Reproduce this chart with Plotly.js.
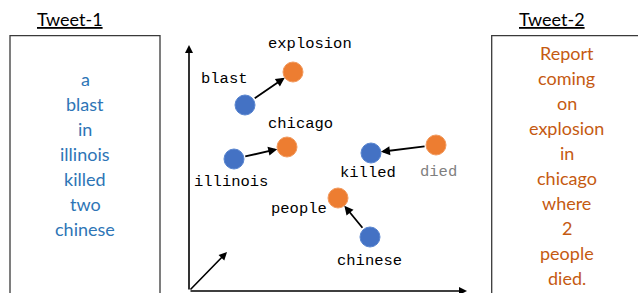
<!DOCTYPE html>
<html>
<head>
<meta charset="utf-8">
<script src="https://cdn.plot.ly/plotly-3.0.1.min.js"></script>
<style>html,body{margin:0;padding:0;background:#fff;}#chart{width:638px;height:293px;}</style>
</head>
<body>
<div id="chart"></div>
<script>
// Word-embedding positions (embedding space, origin at axes corner)
var tweet1Words = ["blast", "illinois", "killed", "chinese"];
var tweet1X = [56, 45, 182, 181];
var tweet1Y = [186, 132, 138, 54];

var tweet2Words = ["explosion", "chicago", "died", "people"];
var tweet2X = [104, 98, 247, 149];
var tweet2Y = [219, 144, 146, 93];

// label positions for each word (same order as above)
var tweet1LabelX = [35, 42, 179, 180];
var tweet1LabelY = [212, 109, 118, 30];
var tweet2LabelX = [121, 111, 249, 110];
var tweet2LabelY = [247, 167, 119, 82];

// arrow direction: true = tweet1 -> tweet2, false = tweet2 -> tweet1
var arrowForward = [true, true, false, true];

// Tweet texts
var tweet1Title = "Tweet-1";
var tweet1Text = ["a", "blast", "in", "illinois", "killed", "two", "chinese"];
var tweet2Title = "Tweet-2";
var tweet2Text = ["Report", "coming", "on", "explosion", "in", "chicago", "where", "2", "people", "died."];

// axis arrow ends
var axisEnds = {x: [0, 278, 38], y: [246, 0, 39]};

var BLUE = "#4472C4", ORANGE = "#ED7D31";
var TBLUE = "#2E75B6", TORANGE = "#C55A11";
var mono = "Liberation Mono, Courier New, monospace";
var sans = "Lato, Open Sans, sans-serif";

var traces = [
  {type: "scatter", mode: "markers", x: tweet1X, y: tweet1Y, text: tweet1Words,
   marker: {size: 20, color: BLUE, line: {color: "#5A86D0", width: 1}}, hoverinfo: "text"},
  {type: "scatter", mode: "markers", x: tweet2X, y: tweet2Y, text: tweet2Words,
   marker: {size: 20, color: ORANGE, line: {color: "#F29A5E", width: 1}}, hoverinfo: "text"}
];

var annotations = [];
var shapes = [];

// axis arrows
for (var i = 0; i < axisEnds.x.length; i++) {
  annotations.push({x: axisEnds.x[i], y: axisEnds.y[i], ax: 0, ay: 0, xref: "x", yref: "y", axref: "x", ayref: "y",
    showarrow: true, arrowhead: 2, arrowsize: 1, arrowwidth: 1.6, arrowcolor: "#000", text: ""});
}

// word arrows
for (var i = 0; i < tweet1Words.length; i++) {
  var fx = arrowForward[i] ? tweet1X[i] : tweet2X[i];
  var fy = arrowForward[i] ? tweet1Y[i] : tweet2Y[i];
  var tx = arrowForward[i] ? tweet2X[i] : tweet1X[i];
  var ty = arrowForward[i] ? tweet2Y[i] : tweet1Y[i];
  annotations.push({x: tx, y: ty, ax: fx, ay: fy, xref: "x", yref: "y", axref: "x", ayref: "y",
    showarrow: true, arrowhead: 2, arrowsize: 1, arrowwidth: 1.8, arrowcolor: "#000",
    standoff: 10, startstandoff: 10, text: ""});
}

// word labels
for (var i = 0; i < tweet1Words.length; i++) {
  annotations.push({x: tweet1LabelX[i], y: tweet1LabelY[i], xref: "x", yref: "y", text: tweet1Words[i],
    showarrow: false, font: {family: mono, size: 15.5, color: "#000"}, xanchor: "center", yanchor: "middle"});
  annotations.push({x: tweet2LabelX[i], y: tweet2LabelY[i], xref: "x", yref: "y", text: tweet2Words[i],
    showarrow: false, font: {family: mono, size: 15.5, color: tweet2Words[i] === "died" ? "#7F7F7F" : "#000"},
    xanchor: "center", yanchor: "middle"});
}

// tweet boxes (in axis units)
function tweetBox(x0, x1, cx, title, words, color, topY) {
  shapes.push({type: "rect", xref: "x", yref: "y", x0: x0, x1: x1, y0: -20, y1: 255.3,
    line: {color: "#3A3A3A", width: 1.3}, fillcolor: "rgba(0,0,0,0)"});
  annotations.push({x: cx - 15, y: 272, xref: "x", yref: "y", text: "<u>" + title + "</u>", showarrow: false,
    font: {family: sans, size: 18, color: "#000"}, xanchor: "center", yanchor: "middle"});
  for (var j = 0; j < words.length; j++) {
    annotations.push({x: cx, y: topY - j * 25, xref: "x", yref: "y", text: words[j], showarrow: false,
      font: {family: sans, size: 18, color: color}, xanchor: "center", yanchor: "middle"});
  }
}
tweetBox(-179, -29, -104, tweet1Title, tweet1Text, TBLUE, 212);
tweetBox(302.7, 452, 377.7, tweet2Title, tweet2Text, TORANGE, 237.7);

var layout = {
  width: 638, height: 293,
  margin: {l: 0, r: 0, t: 0, b: 0},
  paper_bgcolor: "#fff", plot_bgcolor: "#fff",
  showlegend: false,
  xaxis: {range: [-189, 449], visible: false, fixedrange: true},
  yaxis: {range: [-2, 291], visible: false, fixedrange: true},
  annotations: annotations,
  shapes: shapes
};

Plotly.newPlot("chart", traces, layout, {displayModeBar: false, staticPlot: true});
</script>
</body>
</html>
